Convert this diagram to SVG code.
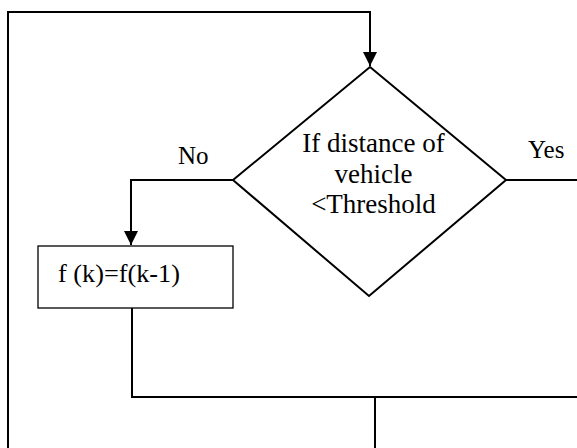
<svg xmlns="http://www.w3.org/2000/svg" width="577" height="448" viewBox="0 0 577 448">
<style>
.ln{fill:none;stroke:#000;stroke-width:2}
.shape{fill:#fff;stroke:#000;stroke-width:2}
.box{fill:#fff;stroke:#000;stroke-width:1.3}
text{font-family:"Liberation Serif","Times New Roman",serif;font-size:25px;fill:#000}
.dt{font-size:27px}
</style>
<defs>
<marker id="ah" markerWidth="14" markerHeight="15" refX="14" refY="7" orient="auto" markerUnits="userSpaceOnUse">
<path d="M0,0 L14,7 L0,14 z" fill="#000"/>
</marker>
</defs>
<g id="connectors">
<path class="ln" d="M8,448 V12 H370 V66" marker-end="url(#ah)"/>
<path class="ln" d="M233,180 H131 V245" marker-end="url(#ah)"/>
<path class="ln" d="M506,180 H577"/>
<path class="ln" d="M132,308 V397 H577"/>
<path class="ln" d="M375,397 V448"/>
<text x="178" y="164">No</text>
<text x="528" y="158">Yes</text>
</g>
<g id="decision">
<polygon class="shape" points="370,67 506,180 369,296 233,180"/>
<text class="dt" x="373.5" y="152" text-anchor="middle">If distance of</text>
<text class="dt" x="373.5" y="183" text-anchor="middle">vehicle</text>
<text class="dt" x="373.5" y="213" text-anchor="middle">&lt;Threshold</text>
</g>
<g id="assign">
<rect class="box" x="38" y="246" width="195" height="62"/>
<text x="58" y="282" textLength="122" lengthAdjust="spacingAndGlyphs">f (k)=f(k-1)</text>
</g>
</svg>
